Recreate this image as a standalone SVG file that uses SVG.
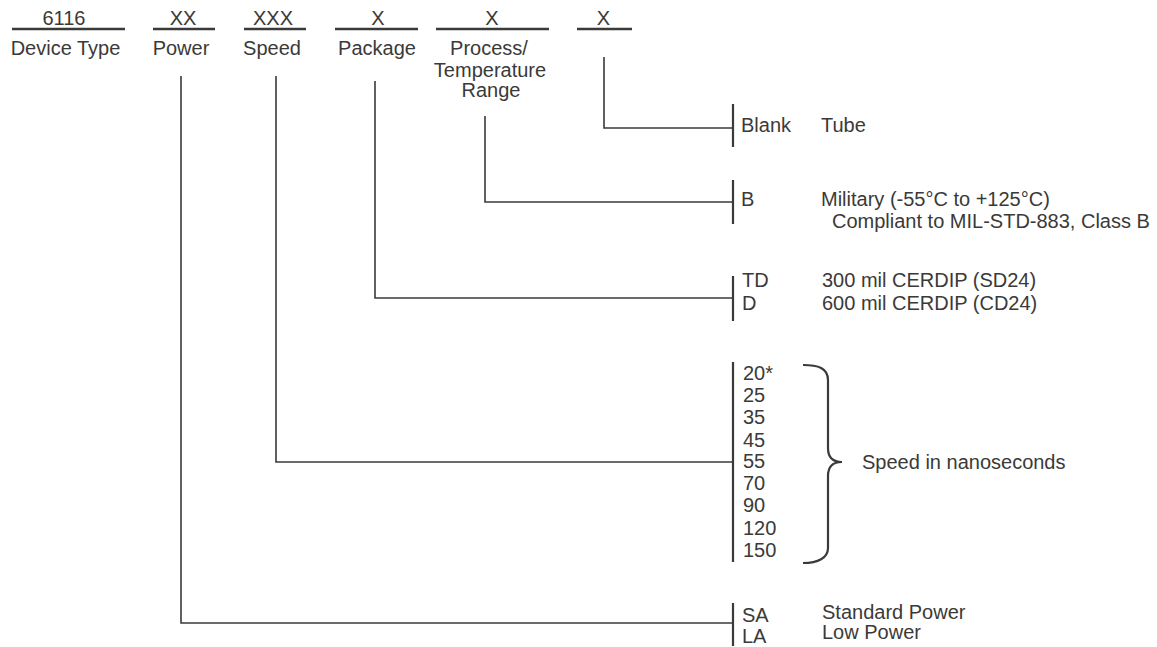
<svg xmlns="http://www.w3.org/2000/svg" width="1157" height="647" viewBox="0 0 1157 647">
<style>
text{font-family:"Liberation Sans",Arial,sans-serif;font-size:20px;fill:#3a3a38}
.c{text-anchor:middle}
.ul{stroke:#3a3a38;stroke-width:2.5;fill:none}
.ln{stroke:#3a3a38;stroke-width:1.6;fill:none}
.bar{stroke:#3a3a38;stroke-width:2.2;fill:none}
</style>
<rect width="1157" height="647" fill="#fff"/>
<g id="header">
<text class="c" x="64" y="25">6116</text>
<line class="ul" x1="12" y1="29" x2="125" y2="29"/>
<text class="c" x="65.5" y="55">Device Type</text>
<text class="c" x="183" y="25">XX</text>
<line class="ul" x1="153" y1="29" x2="215" y2="29"/>
<text class="c" x="181" y="55">Power</text>
<text class="c" x="273" y="25">XXX</text>
<line class="ul" x1="244" y1="29" x2="306" y2="29"/>
<text class="c" x="272" y="55">Speed</text>
<text class="c" x="378" y="25">X</text>
<line class="ul" x1="335" y1="29" x2="418" y2="29"/>
<text class="c" x="377" y="55">Package</text>
<text class="c" x="492" y="25">X</text>
<line class="ul" x1="436" y1="29" x2="549" y2="29"/>
<text class="c" x="489" y="55">Process/</text>
<text class="c" x="490" y="77">Temperature</text>
<text class="c" x="491" y="97">Range</text>
<text class="c" x="603.5" y="25">X</text>
<line class="ul" x1="577" y1="29" x2="632" y2="29"/>
</g>
<g id="connectors">
<polyline class="ln" points="604,57 604,128 733,128"/>
<polyline class="ln" points="485,116 485,202 733,202"/>
<polyline class="ln" points="375,81 375,298 733,298"/>
<polyline class="ln" points="276,76 276,462 733,462"/>
<polyline class="ln" points="181,76 181,623 733,623"/>
</g>
<g id="packing">
<line class="bar" x1="733" y1="104" x2="733" y2="147"/>
<text x="741" y="132">Blank</text>
<text x="821" y="132">Tube</text>
</g>
<g id="process">
<line class="bar" x1="733" y1="180" x2="733" y2="224"/>
<text x="741" y="206">B</text>
<text x="821" y="206">Military (-55°C to +125°C)</text>
<text x="832" y="228">Compliant to MIL-STD-883, Class B</text>
</g>
<g id="package">
<line class="bar" x1="733" y1="276" x2="733" y2="321"/>
<text x="742" y="287">TD</text>
<text x="742" y="310">D</text>
<text x="822" y="287">300 mil CERDIP (SD24)</text>
<text x="822" y="310">600 mil CERDIP (CD24)</text>
</g>
<g id="speed">
<line class="bar" x1="733" y1="362" x2="733" y2="562"/>
<text x="743" y="380">20*</text>
<text x="743" y="402">25</text>
<text x="743" y="424">35</text>
<text x="743" y="447">45</text>
<text x="743" y="468">55</text>
<text x="743" y="490">70</text>
<text x="743" y="512">90</text>
<text x="743" y="535">120</text>
<text x="743" y="557">150</text>
<path class="bar" d="M803,365 C818,365 828,368 828,380 L828,448 C828,458 833,462 842,462 C833,462 828,466 828,476 L828,548 C828,558 818,563 803,563"/>
<text x="862" y="469">Speed in nanoseconds</text>
</g>
<g id="power">
<line class="bar" x1="733" y1="603" x2="733" y2="646"/>
<text x="742" y="622">SA</text>
<text x="742" y="643">LA</text>
<text x="822" y="619">Standard Power</text>
<text x="822" y="639">Low Power</text>
</g>
</svg>
